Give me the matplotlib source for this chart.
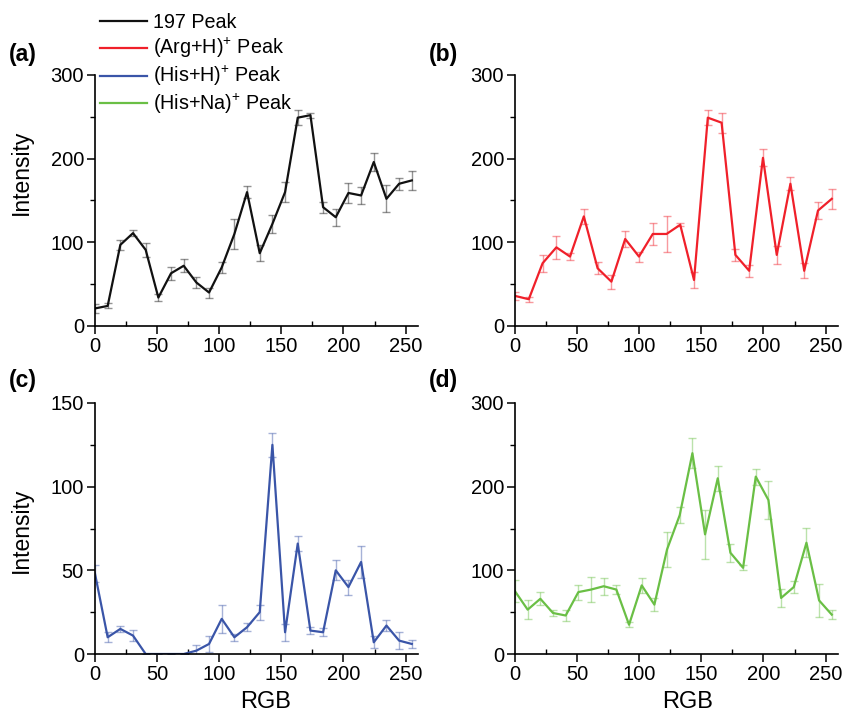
import matplotlib
matplotlib.use("Agg")
import matplotlib.pyplot as plt
from matplotlib.colors import to_rgba
from matplotlib.lines import Line2D
from matplotlib.ticker import MultipleLocator

plt.rcParams["font.family"] = ["Liberation Sans", "DejaVu Sans"]
plt.rcParams["mathtext.fontset"] = "custom"
plt.rcParams["mathtext.rm"] = "Liberation Sans"
plt.rcParams["mathtext.default"] = "regular"

# RGB levels (26 steps, except the Arg trace which has 24)
rgb = [0, 10.2, 20.4, 30.6, 40.8, 51, 61.2, 71.4, 81.6, 91.8, 102, 112.2, 122.4,
       132.6, 142.8, 153, 163.2, 173.4, 183.6, 193.8, 204, 214.2, 224.4, 234.6,
       244.8, 255]
rgb_arg = [0, 11.1, 22.2, 33.3, 44.3, 55.4, 66.5, 77.6, 88.7, 99.8, 110.9, 122.0,
           133.0, 144.1, 155.2, 166.3, 177.4, 188.5, 199.6, 210.7, 221.7, 232.8,
           243.9, 255]

peak197 = [21, 24, 97, 111, 91, 34, 63, 72, 52, 40, 70, 110, 160, 87, 122, 160,
           249, 252, 142, 130, 159, 156, 196, 152, 170, 174]
peak197_err = [5, 3, 6, 3.5, 8, 4, 8, 8, 7, 6, 7, 18, 7, 9.5, 11, 12, 9, 3, 6.5,
               10, 12, 10.5, 11, 16, 7, 11]

arg_h = [36, 32, 75, 94, 83, 131, 69, 53, 104, 83, 110, 110, 121, 55, 249, 243,
         85, 66, 201, 85, 170, 66, 138, 152]
arg_h_err = [5, 3, 10, 14, 4.5, 8.5, 7, 8.5, 9, 6, 13, 21, 2, 10, 9, 12, 7.5, 7.5,
             10, 11, 8, 9, 10, 12]

his_h = [48, 10, 15, 11, 0, 0, 0, 0, 2, 6, 21, 10, 16, 25, 125, 13, 66, 14, 13,
         50, 40, 55, 7, 17, 8, 6]
his_h_err = [5, 3, 2, 3.5, 0, 0, 0, 0, 3.5, 5, 8.5, 2, 2.5, 4.5, 7, 5, 4.5, 2, 2.5,
             6, 4.5, 9.5, 3.5, 3.5, 5, 2.5]

his_na = [75, 53, 66, 49, 46, 74, 77, 81, 77, 35, 82, 59, 125, 166, 240, 143, 210,
          121, 103, 212, 184, 67, 80, 133, 64, 47]
his_na_err = [13, 11, 8, 3.5, 6, 9, 15, 10, 5.5, 3, 9, 7.5, 21, 10, 18, 29, 15,
              10.5, 3, 9.5, 23, 11, 7, 17.5, 20, 5.5]

labels = ["197 Peak", "(Arg+H)$^{+}$ Peak", "(His+H)$^{+}$ Peak", "(His+Na)$^{+}$ Peak"]
colors = ["#111111", "#f0202a", "#3a55a8", "#6abf45"]

W, H = 843, 712
fig = plt.figure(figsize=(W / 100, H / 100), dpi=100)

# panel boxes in pixels: left, top, right, bottom
boxes = [(95, 75, 418, 326), (515, 75, 838, 326),
         (95, 403, 418, 654), (515, 403, 838, 654)]
series = [(rgb, peak197, peak197_err, 300),
          (rgb_arg, arg_h, arg_h_err, 300),
          (rgb, his_h, his_h_err, 150),
          (rgb, his_na, his_na_err, 300)]
tags = ["(a)", "(b)", "(c)", "(d)"]
tag_y = [55, 55, 380, 380]

for k in range(4):
    l, t, r, b = boxes[k]
    ax = fig.add_axes([l / W, 1 - b / H, (r - l) / W, (b - t) / H])
    x, y, e, ymax = series[k]
    ax.errorbar(x, y, yerr=e, color=colors[k], lw=1.6,
                ecolor=to_rgba(colors[k], 0.45), elinewidth=1.0,
                capsize=3, capthick=1.0)
    ax.set_xlim(0, 260)
    ax.set_ylim(0, ymax)
    ax.spines["top"].set_visible(False)
    ax.spines["right"].set_visible(False)
    ax.spines["left"].set_linewidth(1.2)
    ax.spines["bottom"].set_linewidth(1.2)
    ax.xaxis.set_major_locator(MultipleLocator(50))
    ax.xaxis.set_minor_locator(MultipleLocator(25))
    ax.yaxis.set_major_locator(MultipleLocator(ymax / 3))
    ax.yaxis.set_minor_locator(MultipleLocator(ymax / 6))
    ax.tick_params(which="major", length=6, width=1.1, labelsize=14.5, pad=2)
    ax.tick_params(axis="x", which="minor", direction="in", length=3.5, width=1.0)
    ax.tick_params(axis="y", which="minor", direction="out", length=3.5, width=1.0)
    fig.text((l - 86) / W, 1 - tag_y[k] / H, tags[k], fontsize=16.5,
             fontweight="bold", va="center", ha="left")

fig.text(21 / W, 1 - 172 / H, "Intensity", rotation=90, fontsize=16.5,
         va="center", ha="center")
fig.text(21 / W, 1 - 530 / H, "Intensity", rotation=90, fontsize=16.5,
         va="center", ha="center")
fig.text(266 / W, 1 - 702 / H, "RGB", fontsize=17, va="center", ha="center")
fig.text(688 / W, 1 - 702 / H, "RGB", fontsize=17, va="center", ha="center")

# legend entries drawn row by row so the spacing stays even
line_y = [21, 48, 76, 103]
for c, lab, yy in zip(colors, labels, line_y):
    fig.add_artist(Line2D([100 / W, 147 / W], [1 - yy / H, 1 - yy / H],
                          color=c, lw=1.6, transform=fig.transFigure))
    fig.text(153 / W, 1 - (yy + 6.5) / H, lab, fontsize=14.2, va="baseline",
             ha="left")

fig.savefig("out.png", dpi=100)
